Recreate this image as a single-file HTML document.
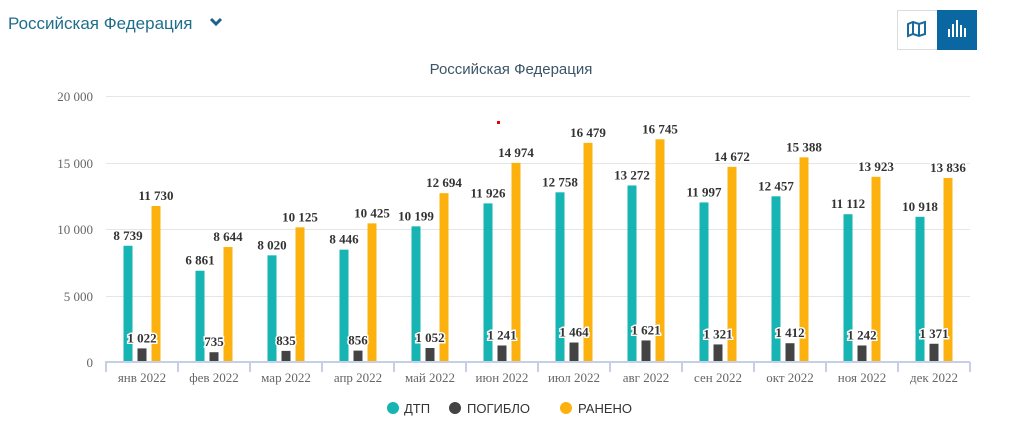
<!DOCTYPE html>
<html><head><meta charset="utf-8"><style>
body{margin:0;background:#fff;width:1024px;height:431px;overflow:hidden;font-family:"Liberation Sans",sans-serif}
</style></head><body>
<svg width="1024" height="431" xmlns="http://www.w3.org/2000/svg">
<text x="8" y="29" font-family="Liberation Sans, sans-serif" font-size="17" fill="#1f6e8c">Российская Федерация</text>
<path d="M211 19 l5 5 l5 -5" stroke="#1f5f8c" stroke-width="3" fill="none"/>
<rect x="897.5" y="10.5" width="40" height="39" fill="#fff" stroke="#d8dde2"/>
<rect x="937" y="10" width="40" height="40" fill="#0b67a2"/>
<path d="M908 24 l5 -2 l6 2 l6 -2 v12 l-6 2 l-6 -2 l-5 2z M913 22 v12 M919 24 v12" stroke="#1a6aa0" stroke-width="2" fill="none"/>
<g fill="#fff"><rect x="948" y="29" width="2" height="8"/><rect x="952" y="24" width="2" height="13"/><rect x="956" y="20" width="2" height="17"/><rect x="960" y="25" width="2" height="12"/><rect x="964" y="28" width="2" height="9"/></g>
<text x="511" y="74" text-anchor="middle" font-size="15" fill="#3b5568">Российская Федерация</text>
<g stroke="#e6e6e6" stroke-width="1">
<line x1="106" x2="970" y1="96.5" y2="96.5"/><line x1="106" x2="970" y1="163.5" y2="163.5"/><line x1="106" x2="970" y1="229.5" y2="229.5"/><line x1="106" x2="970" y1="296.5" y2="296.5"/>
</g>
<g font-family="Liberation Serif, serif" font-size="13" fill="#666" text-anchor="end">
<text x="93" y="101">20 000</text><text x="93" y="168">15 000</text><text x="93" y="234">10 000</text><text x="93" y="301">5 000</text><text x="93" y="367">0</text>
</g>
<g id="bars"></g>
<line x1="105" x2="970" y1="362" y2="362" stroke="#c5d0e6" stroke-width="2"/>
<g id="ticks" stroke="#c5d0e6" stroke-width="2"></g>
<g id="xl" font-family="Liberation Serif, serif" font-size="13" fill="#666" text-anchor="middle"></g>
<g id="lbl" font-family="Liberation Serif, serif" font-size="13" font-weight="bold" fill="#333" text-anchor="middle" stroke="#fff" stroke-width="3" paint-order="stroke"></g>
<circle cx="393" cy="408" r="6" fill="#17b4b4"/><text x="404" y="413" font-size="13" fill="#333">ДТП</text>
<circle cx="455" cy="408" r="6" fill="#434343"/><text x="467" y="413" font-size="13" fill="#333">ПОГИБЛО</text>
<circle cx="566" cy="408" r="6" fill="#fdb10e"/><text x="578" y="413" font-size="13" fill="#333">РАНЕНО</text>
<rect x="497" y="121" width="3" height="3" fill="#e00"/>
</svg>
<script>
var m=["янв","фев","мар","апр","май","июн","июл","авг","сен","окт","ноя","дек"];
var d=[[8739,1022,11730],[6861,735,8644],[8020,835,10125],[8446,856,10425],[10199,1052,12694],[11926,1241,14974],[12758,1464,16479],[13272,1621,16745],[11997,1321,14672],[12457,1412,15388],[11112,1242,13923],[10918,1371,13836]];
var c=["#17b4b4","#434343","#fdb10e"],off=[-14,0,14];
var ns="http://www.w3.org/2000/svg";
function f(n){var s=String(n);return s.length>3?s.slice(0,-3)+" "+s.slice(-3):s}
function el(p,t,a,tx){var e=document.createElementNS(ns,t);for(var k in a)e.setAttribute(k,a[k]);if(tx)e.textContent=tx;document.getElementById(p).appendChild(e)}
var w=72,x0=106,k=266/20000;
for(var i=0;i<=12;i++)el("ticks","line",{x1:x0+i*w,x2:x0+i*w,y1:362,y2:372});
for(var i=0;i<12;i++){var cx=x0+i*w+w/2;
el("xl","text",{x:cx,y:382},m[i]+" 2022");
for(var j=0;j<3;j++){var h=d[i][j]*k,bx=cx+off[j];
el("bars","rect",{x:bx-4.5,y:362-h,width:9,height:h,fill:c[j]});
el("lbl","text",{x:bx,y:362-h-6},f(d[i][j]));}}
</script>
</body></html>
